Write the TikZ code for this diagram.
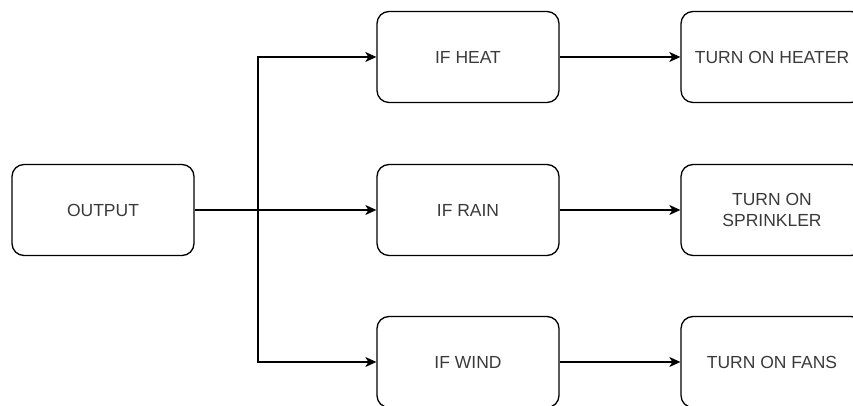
\documentclass[tikz,border=0pt]{standalone}
\usepackage{fontspec}
\setmainfont{Liberation Sans}
\usetikzlibrary{arrows.meta}
\definecolor{txtgray}{HTML}{3A3A3A}
\begin{document}
\begin{tikzpicture}[x=1pt,y=1pt,>={Stealth[length=11pt,width=10pt,inset=3pt]},
        box/.style={draw=black, line width=1.3pt, rounded corners=12pt, minimum width=182pt, minimum height=91pt, align=center, font=\fontsize{17.5}{21}\selectfont, text=txtgray},
        link/.style={line width=1.3pt, ->}]
        \useasboundingbox (0,0) rectangle (853,406);
        \clip (0,0) rectangle (853,406);
        \node[box] (output) at (103,196) {OUTPUT};
        \node[box] (ifheat) at (468,349) {IF HEAT};
        \node[box] (ifrain) at (468,196) {IF RAIN};
        \node[box] (ifwind) at (468,44) {IF WIND};
        \node[box] (heater) at (772,349) {TURN ON HEATER};
        \node[box] (sprinkler) at (772,196) {TURN ON\\SPRINKLER};
        \node[box] (fans) at (772,44) {TURN ON FANS};
        \coordinate (split) at (258,196);
        \draw[line width=1.3pt] (output.east) -- (split);
        \draw[link] (split) |- (ifheat.west);
        \draw[link] (split) -- (ifrain.west);
        \draw[link] (split) |- (ifwind.west);
        \draw[link] (ifheat) -- (heater);
        \draw[link] (ifrain) -- (sprinkler);
        \draw[link] (ifwind) -- (fans);
    \end{tikzpicture}
\end{document}
